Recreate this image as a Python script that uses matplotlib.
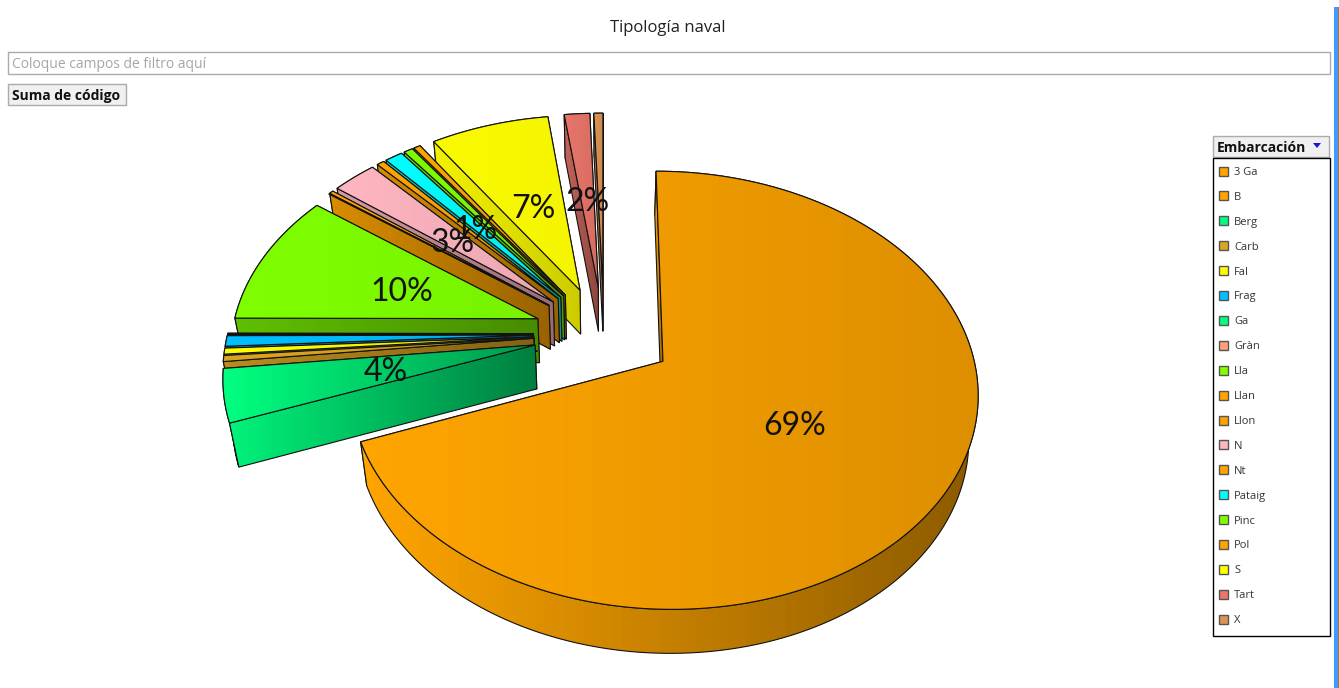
import numpy as np
import matplotlib
matplotlib.use('Agg')
import matplotlib.pyplot as plt
from matplotlib.colors import to_rgb
from matplotlib.patches import Polygon, Rectangle

# embarcaciones, en orden de leyenda
NAMES = ['3 Ga', 'B', 'Berg', 'Carb', 'Fal', 'Frag', 'Ga', 'Gràn', 'Lla', 'Llan',
         'Llon', 'N', 'Nt', 'Pataig', 'Pinc', 'Pol', 'S', 'Tart', 'X']
VALUES = [69.2, 0.05, 4.0, 0.45, 0.45, 0.8, 0.05, 0.05, 10.15, 0.05,
          0.25, 2.7, 0.45, 1.08, 0.55, 0.42, 7.2, 1.55, 0.55]
COLORS = ['#FFA500', '#FFA500', '#00FF80', '#DAA520', '#FFFF00', '#00BFFF', '#00FF7F', '#FFA07A', '#7FFF00', '#FFA500',
          '#FFA500', '#FFB6C1', '#FFA500', '#00FFFF', '#7FFF00', '#FFA500', '#FFFF00', '#E9766A', '#DD9455']

TITLE = 'Tipología naval'
FILTER_TEXT = 'Coloque campos de filtro aquí'
BUTTON_TEXT = 'Suma de código'
LEGEND_TITLE = 'Embarcación'

# proyeccion del plano del pie a pixeles
X0, Y0 = 604, 333.7
SX, SY = 306, 208
PERSP = 0.13
EXPLODE = 0.23
DEPTH = 44
SHRINK = 0.975

# brillo (izquierda, derecha) de cara superior y lateral
TOP_SHADE = {'3 Ga': (1.0, 0.87), 'Berg': (1.0, 0.6), 'Lla': (1.0, 0.95), 'S': (0.98, 0.96)}
SIDE_SHADE = {'3 Ga': (1.0, 0.55), 'Berg': (0.95, 0.5), 'Lla': (0.75, 0.55), 'S': (0.95, 0.8)}

plt.rcParams['font.family'] = ['Open Sans', 'DejaVu Sans']

fig = plt.figure(figsize=(13.39, 6.88), dpi=100)
ax = fig.add_axes([0, 0, 1, 1])
ax.set_xlim(0, 1339)
ax.set_ylim(688, 0)
ax.axis('off')


def project(u, v):
	w = 1 + PERSP * v
	return X0 + SX * u / w, Y0 - SY * v / w


def lower(pts):
	pts = np.asarray(pts)
	return np.column_stack((X0 + (pts[:, 0] - X0) * SHRINK, pts[:, 1] + DEPTH))


def shaded_poly(pts, color, shade, z):
	pts = np.asarray(pts)
	rgb = np.array(to_rgb(color))
	ramp = np.linspace(shade[0], shade[1], 64)
	img = np.clip(ramp[None, :, None] * rgb[None, None, :], 0, 1)
	xmin, xmax = pts[:, 0].min(), pts[:, 0].max()
	ymin, ymax = pts[:, 1].min(), pts[:, 1].max()
	im = ax.imshow(img, extent=(xmin, xmax + 0.01, ymax + 0.01, ymin), aspect='auto', zorder=z)
	patch = Polygon(pts, closed=True, facecolor='none', edgecolor='#111111', linewidth=0.8, zorder=z + 0.5)
	ax.add_patch(patch)
	im.set_clip_path(patch)


def draw_slice(name, value, color, start, z):
	span = value / 100 * 2 * np.pi
	mid = start + span / 2
	du, dv = EXPLODE * np.sin(mid), EXPLODE * np.cos(mid)
	angles = np.linspace(start, start + span, max(2, int(np.degrees(span)) + 2))
	arc = np.column_stack(project(du + np.sin(angles), dv + np.cos(angles)))
	apex = np.array(project(du, dv))
	top = np.vstack((apex, arc))

	# las porciones casi nulas quedan solo como una linea
	if value > 0.1:
		side = SIDE_SHADE.get(name, (0.85, 0.6))
		shaded_poly(np.vstack((apex, arc[-1], lower(arc[-1:]), lower(apex[None]))), color, side, z)
		shaded_poly(np.vstack((arc, lower(arc)[::-1])), color, side, z + 1)
		shaded_poly(np.vstack((apex, arc[0], lower(arc[:1]), lower(apex[None]))), color, side, z + 2)
	shaded_poly(top, color, TOP_SHADE.get(name, (1.0, 0.92)), z + 3)

	if value >= 0.9:
		lx, ly = project((EXPLODE + 0.487) * np.sin(mid), (EXPLODE + 0.487) * np.cos(mid))
		ly += 4 if np.cos(mid) > 0 else 3
		ax.text(lx, ly, '%.0f%%' % value, fontsize=23, family=['Lato', 'DejaVu Sans'], color='#111111',
			ha='center', va='center', zorder=1000)


starts = np.cumsum([0] + VALUES[:-1]) / 100 * 2 * np.pi

# de atras hacia delante
order = [i for i in range(len(NAMES) - 1, 2, -1)] + [1, 2, 0]
z = 10
for i in order:
	draw_slice(NAMES[i], VALUES[i], COLORS[i], starts[i], z)
	z += 5

# titulo y barras de campos
ax.text(667.5, 26, TITLE, fontsize=12, color='#222222', ha='center', va='center_baseline')
ax.add_patch(Rectangle((8, 52), 1322, 22, facecolor='white', edgecolor='#ABABAB', linewidth=1))
ax.text(12, 63, FILTER_TEXT, fontsize=10, color='#A6A6A6', ha='left', va='center_baseline')
ax.add_patch(Rectangle((8, 84), 118, 21, facecolor='#F0F0F0', edgecolor='#ABABAB', linewidth=1))
ax.text(12, 94.5, BUTTON_TEXT, fontsize=10, fontweight='bold', color='#111111', ha='left', va='center_baseline')

# leyenda
ax.add_patch(Rectangle((1213, 136), 116, 21, facecolor='#F0F0F0', edgecolor='#ABABAB', linewidth=1))
ax.text(1217, 147, LEGEND_TITLE, fontsize=10, fontweight='bold', color='#111111', ha='left', va='center_baseline')
ax.add_patch(Polygon([(1313, 143), (1321, 143), (1317, 148)], closed=True, facecolor='#1515E0', edgecolor='none'))
ax.add_patch(Rectangle((1213, 158), 117, 478, facecolor='white', edgecolor='black', linewidth=1))
for i, name in enumerate(NAMES):
	y = 171 + i * 24.9
	ax.add_patch(Rectangle((1219, y - 4.5), 9, 9, facecolor=COLORS[i], edgecolor='#555555', linewidth=1))
	ax.text(1234, y, name, fontsize=8, color='#333333', ha='left', va='center_baseline')

# borde azul de la ventana
ax.add_patch(Rectangle((1333.5, 7), 4, 681, facecolor='#3F9BFF', edgecolor='none'))
ax.add_patch(Rectangle((1337.5, 7), 1, 681, facecolor='#B87333', edgecolor='none'))

fig.savefig('out.png', dpi=100)
plt.close()
